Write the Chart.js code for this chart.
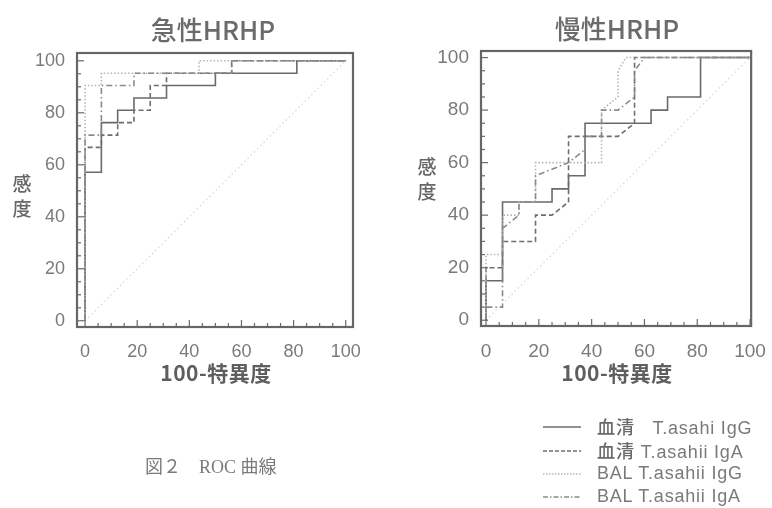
<!DOCTYPE html>
<html>
<head>
<meta charset="utf-8">
<script src="https://cdn.jsdelivr.net/npm/chart.js@4.4.1/dist/chart.umd.min.js"></script>
<style>
  html, body { margin: 0; padding: 0; background: #fff; }
  body { width: 772px; height: 508px; position: relative; overflow: hidden; font-family: "Liberation Sans", "Noto Sans CJK JP", sans-serif; color: #777; }
  canvas { position: absolute; }
  .abs { position: absolute; white-space: nowrap; }
  .title { font-family: "Noto Sans CJK JP", sans-serif; font-size: 26px; font-weight: 500; color: #6b6b6b; transform: translate(-50%, -50%); }
  .xlab { font-family: "Noto Sans CJK JP", sans-serif; font-size: 21px; font-weight: 700; color: #5e5e5e; letter-spacing: 0.5px; transform: translate(-50%, -50%); }
  .ylab { font-family: "Noto Sans CJK JP", sans-serif; font-size: 19px; font-weight: 500; color: #666; line-height: 25px; width: 22px; text-align: center; transform: translate(-50%, -50%); }
  .leg { font-size: 18px; color: #7a7a7a; letter-spacing: 0.8px; line-height: 20px; }
  .leg .cjk { font-family: "Noto Sans CJK JP", sans-serif; font-weight: 500; color: #6a6a6a; letter-spacing: 1px; }
  .cap { font-family: "Liberation Serif", "Noto Sans CJK JP", serif; font-size: 18px; color: #7a7a7a; line-height: 20px; }
</style>
</head>
<body>
<canvas id="c1" width="380" height="362" style="left:0;top:0"></canvas>
<canvas id="c2" width="382" height="362" style="left:390px;top:0"></canvas>

<div class="abs title" style="left:213px;top:28px">急性HRHP</div>
<div class="abs title" style="left:617px;top:27px">慢性HRHP</div>
<div class="abs xlab" style="left:216px;top:372px">100-特異度</div>
<div class="abs xlab" style="left:617px;top:372px">100-特異度</div>
<div class="abs ylab" style="left:22px;top:195px">感<br>度</div>
<div class="abs ylab" style="left:427px;top:178px">感<br>度</div>

<svg class="abs" style="left:0;top:0" width="772" height="508">
  <line x1="543" y1="427" x2="581" y2="427" stroke="#6e6e6e" stroke-width="1.5"/>
  <line x1="543" y1="451" x2="581" y2="451" stroke="#707070" stroke-width="1.5" stroke-dasharray="4,2"/>
  <line x1="543" y1="474" x2="581" y2="474" stroke="#b8b8b8" stroke-width="1.5" stroke-dasharray="1.5,1.5"/>
  <line x1="543" y1="497" x2="581" y2="497" stroke="#8a8a8a" stroke-width="1.5" stroke-dasharray="5,2,1.5,2"/>
</svg>
<div class="abs leg" style="left:597px;top:416px"><span class="cjk">血清</span>&nbsp;&nbsp;&nbsp;T.asahi IgG</div>
<div class="abs leg" style="left:597px;top:440px"><span class="cjk">血清</span> T.asahii IgA</div>
<div class="abs leg" style="left:597px;top:463px">BAL T.asahii IgG</div>
<div class="abs leg" style="left:597px;top:486px">BAL T.asahii IgA</div>
<div class="abs cap" style="left:145px;top:457px">図２&nbsp;&nbsp;&nbsp;&nbsp;ROC 曲線</div>

<script>
// ---- Data (x = 100-特異度, y = 感度) ----
const tickValues = [0, 20, 40, 60, 80, 100];
const seriesLabels = ["血清 T.asahi IgG", "血清 T.asahii IgA", "BAL T.asahii IgG", "BAL T.asahii IgA"];
const diagonal = [[0, 0], [100, 100]];

// 急性HRHP
const acuteSerumIgG = [[0,0],[0,57.1],[6.25,57.1],[6.25,76.2],[12.5,76.2],[12.5,81],[18.75,81],[18.75,85.7],[31.25,85.7],[31.25,90.5],[50,90.5],[50,95.2],[81.25,95.2],[81.25,100],[100,100]];
const acuteSerumIgA = [[0,0],[0,66.7],[6.25,66.7],[6.25,71.4],[12.5,71.4],[12.5,76.2],[18.75,76.2],[18.75,81],[25,81],[25,90.5],[31.25,90.5],[31.25,95.2],[56.25,95.2],[56.25,100],[100,100]];
const acuteBalIgG = [[0,0],[0,90.5],[6.25,90.5],[6.25,95.2],[43.75,95.2],[43.75,100],[100,100]];
const acuteBalIgA = [[0,0],[0,71.4],[6.25,71.4],[6.25,90.5],[18.75,90.5],[18.75,95.2],[56.25,95.2],[56.25,100],[100,100]];

// 慢性HRHP
const chronicSerumIgG = [[0,0],[0,15],[6.25,15],[6.25,45],[25,45],[25,50],[31.25,50],[31.25,55],[37.5,55],[37.5,75],[62.5,75],[62.5,80],[68.75,80],[68.75,85],[81.25,85],[81.25,100],[100,100]];
const chronicSerumIgA = [[0,0],[0,20],[6.25,20],[6.25,30],[18.75,30],[18.75,40],[25,40],[31.25,45],[31.25,70],[50,70],[56.25,75],[56.25,100],[100,100]];
const chronicBalIgG = [[0,0],[0,25],[6.25,25],[6.25,40],[12.5,40],[12.5,45],[18.75,45],[18.75,60],[43.75,60],[43.75,80],[50,85],[50,95],[53,100],[100,100]];
const chronicBalIgA = [[0,0],[0,5],[6.25,5],[6.25,35],[12.5,40],[12.5,45],[18.75,45],[18.75,55],[31.25,60],[37.5,65],[37.5,70],[43.75,70],[43.75,80],[50,80],[56.25,85],[56.25,95],[60,100],[100,100]];

// ---- Styles ----
const styles = [
  { color: "#6a6a6a", dash: [], width: 1.6 },
  { color: "#6e6e6e", dash: [5, 3], width: 1.6 },
  { color: "#b5b5b5", dash: [1.5, 2], width: 1.6 },
  { color: "#8a8a8a", dash: [6, 3, 1.5, 3], width: 1.6 }
];

const toPts = arr => arr.map(p => ({ x: p[0], y: p[1] }));

const framePlugin = {
  id: "frame",
  afterDraw(chart) {
    const { ctx, chartArea: a, scales } = chart;
    ctx.save();
    ctx.strokeStyle = "#6a6a6a";
    ctx.lineWidth = 1.2;
    for (let v = 0; v <= 100; v += 5) {
      const len = v % 20 === 0 ? 7 : 4;
      const py = scales.y.getPixelForValue(v);
      ctx.beginPath(); ctx.moveTo(a.left, py); ctx.lineTo(a.left + len, py); ctx.stroke();
      const px = scales.x.getPixelForValue(v);
      ctx.beginPath(); ctx.moveTo(px, a.bottom); ctx.lineTo(px, a.bottom - len); ctx.stroke();
    }
    ctx.lineWidth = 2.2;
    ctx.strokeStyle = "#666";
    ctx.strokeRect(a.left, a.top, a.right - a.left, a.bottom - a.top);
    ctx.restore();
  }
};

function makeChart(id, seriesList, geo) {
  const datasets = [{
    data: toPts(diagonal), showLine: true, borderColor: "#d6d6d6", borderWidth: 1.2,
    borderDash: [1.5, 3], pointRadius: 0, fill: false
  }];
  seriesList.forEach((s, i) => {
    datasets.push({
      label: seriesLabels[i], data: toPts(s), showLine: true,
      borderColor: styles[i].color, borderWidth: styles[i].width, borderDash: styles[i].dash,
      pointRadius: 0, fill: false, tension: 0
    });
  });
  datasets.reverse();
  const tickCfg = (size) => ({
    font: { family: "'Liberation Sans', Arial, sans-serif", size: size },
    color: "#7a7a7a"
  });
  return new Chart(document.getElementById(id), {
    type: "scatter",
    data: { datasets },
    options: {
      responsive: false, animation: false, devicePixelRatio: 1,
      layout: { padding: { top: geo.top, right: geo.right, left: 0, bottom: 0 } },
      plugins: { legend: { display: false }, tooltip: { enabled: false } },
      scales: {
        x: {
          type: "linear", min: geo.xmin, max: geo.xmax,
          grid: { display: false }, border: { display: false },
          ticks: Object.assign(tickCfg(geo.font), { padding: geo.xpad, maxRotation: 0, autoSkip: false }),
          afterBuildTicks: s => { s.ticks = tickValues.map(v => ({ value: v })); },
          afterFit: s => { s.height = geo.xh; }
        },
        y: {
          type: "linear", min: geo.ymin, max: geo.ymax,
          grid: { display: false }, border: { display: false },
          ticks: Object.assign(tickCfg(geo.font), { padding: geo.ypad, autoSkip: false }),
          afterBuildTicks: s => { s.ticks = tickValues.map(v => ({ value: v })); },
          afterFit: s => { s.width = geo.yw; }
        }
      }
    },
    plugins: [framePlugin]
  });
}

makeChart("c1", [acuteSerumIgG, acuteSerumIgA, acuteBalIgG, acuteBalIgA],
  { top: 53, right: 27, yw: 77, xh: 35, xmin: -3.1, xmax: 102.8, ymin: -2.4, ymax: 103, font: 18, xpad: 6, ypad: 4 });
makeChart("c2", [chronicSerumIgG, chronicSerumIgA, chronicBalIgG, chronicBalIgA],
  { top: 51, right: 19, yw: 91, xh: 36, xmin: -1.9, xmax: 100.4, ymin: -2.2, ymax: 102.5, font: 19, xpad: 6, ypad: 4 });
</script>
</body>
</html>
